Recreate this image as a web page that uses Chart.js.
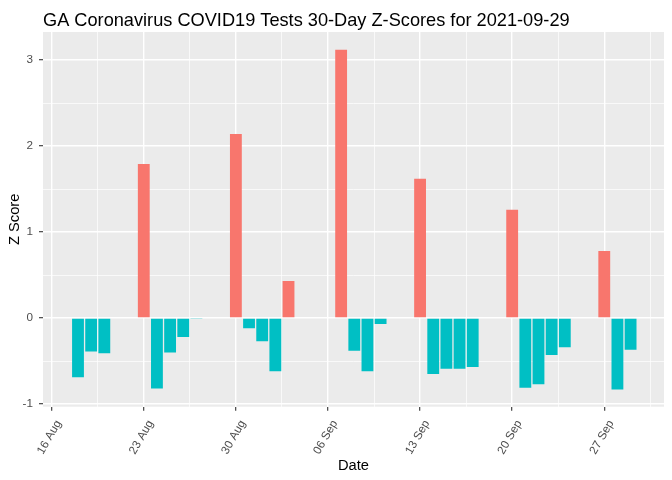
<!DOCTYPE html>
<html>
<head>
<meta charset="utf-8">
<title>GA COVID19 Tests Z-Scores</title>
<script src="https://cdn.jsdelivr.net/npm/chart.js@4.4.0/dist/chart.umd.min.js"></script>
<style>
  html, body { margin: 0; padding: 0; background: #ffffff; }
  #wrap { width: 672px; height: 480px; }
</style>
</head>
<body>
<div id="wrap"><canvas id="chart" width="672" height="480"></canvas></div>
<script>
// Chart data
const chartTitle = 'GA Coronavirus COVID19 Tests 30-Day Z-Scores for 2021-09-29';

const dates = [
  '2021-08-18', '2021-08-19', '2021-08-20',
  '2021-08-23', '2021-08-24', '2021-08-25', '2021-08-26', '2021-08-27',
  '2021-08-30', '2021-08-31', '2021-09-01', '2021-09-02', '2021-09-03',
  '2021-09-07', '2021-09-08', '2021-09-09', '2021-09-10',
  '2021-09-13', '2021-09-14', '2021-09-15', '2021-09-16', '2021-09-17',
  '2021-09-20', '2021-09-21', '2021-09-22', '2021-09-23', '2021-09-24',
  '2021-09-27', '2021-09-28', '2021-09-29'
];

const zScores = [
  -0.69, -0.39, -0.41,
  1.79, -0.82, -0.40, -0.22, -0.01,
  2.14, -0.12, -0.27, -0.62, 0.43,
  3.12, -0.38, -0.62, -0.07,
  1.62, -0.65, -0.59, -0.59, -0.57,
  1.26, -0.81, -0.77, -0.43, -0.34,
  0.78, -0.83, -0.37
];

const tickDates = ['2021-08-16', '2021-08-23', '2021-08-30', '2021-09-06', '2021-09-13', '2021-09-20', '2021-09-27'];
const tickLabels = ['16 Aug', '23 Aug', '30 Aug', '06 Sep', '13 Sep', '20 Sep', '27 Sep'];
const yTickValues = [-1, 0, 1, 2, 3];

const posColor = '#F8766D';
const negColor = '#00BFC4';

// days counted from the first tick date
const dayOf = s => (Date.parse(s) - Date.parse(tickDates[0])) / 86400000;
const tickDays = tickDates.map(dayOf);

const xMin = -0.66, xMax = 46.54;
const yMin = -1.031, yMax = 3.326;

// major grid at ticks, minor halfway between
const xGrid = [];
tickDays.forEach(d => {
  xGrid.push(d);
  if (d + 3.5 <= xMax) xGrid.push(d + 3.5);
});
const yGrid = [];
yTickValues.forEach(v => {
  yGrid.push(v);
  if (v + 0.5 <= yMax) yGrid.push(v + 0.5);
});

const isMajorX = c => !!c.tick && tickDays.includes(c.tick.value);
const isMajorY = c => !!c.tick && yTickValues.includes(c.tick.value);

const panelBg = {
  id: 'panelBg',
  beforeDraw(chart) {
    const { ctx, chartArea: a } = chart;
    ctx.save();
    ctx.fillStyle = '#EBEBEB';
    ctx.fillRect(a.left, a.top, a.right - a.left, a.bottom - a.top);
    ctx.restore();
  }
};

const plotTitle = {
  id: 'plotTitle',
  afterDraw(chart) {
    const { ctx, chartArea: a } = chart;
    ctx.save();
    ctx.fillStyle = '#000000';
    ctx.font = '18.2px "Liberation Sans", Arial, sans-serif';
    ctx.textAlign = 'left';
    ctx.textBaseline = 'alphabetic';
    ctx.fillText(chartTitle, a.left, 26);
    ctx.restore();
  }
};

const tickFont = { family: '"Liberation Sans", Arial, sans-serif', size: 11.7 };
const titleFont = { family: '"Liberation Sans", Arial, sans-serif', size: 14.7 };

new Chart(document.getElementById('chart'), {
  type: 'bar',
  data: {
    datasets: [{
      data: dates.map((d, i) => ({ x: dayOf(d), y: zScores[i] })),
      backgroundColor: zScores.map(v => v > 0 ? posColor : negColor),
      borderWidth: 0,
      categoryPercentage: 1,
      barPercentage: 0.9
    }]
  },
  options: {
    responsive: false,
    animation: false,
    devicePixelRatio: 1,
    layout: { padding: { top: 32, right: 8, bottom: 0, left: 0 } },
    plugins: {
      legend: { display: false },
      tooltip: { enabled: false },
      title: { display: false }
    },
    scales: {
      x: {
        type: 'linear',
        offset: false,
        min: xMin,
        max: xMax,
        afterBuildTicks: s => { s.ticks = xGrid.map(v => ({ value: v })); },
        afterFit: s => { s.height = 73.3; },
        border: { display: false },
        grid: {
          offset: false,
          color: '#FFFFFF',
          lineWidth: c => isMajorX(c) ? 1.4 : 0.7,
          drawTicks: true,
          tickLength: 4,
          tickWidth: 1.1,
          tickColor: c => isMajorX(c) ? '#333333' : 'rgba(0,0,0,0)'
        },
        ticks: {
          autoSkip: false,
          minRotation: 60,
          maxRotation: 60,
          padding: 7,
          labelOffset: 7,
          color: '#4D4D4D',
          font: tickFont,
          callback: v => {
            const i = tickDays.indexOf(v);
            return i >= 0 ? tickLabels[i] : '';
          }
        },
        title: {
          display: true,
          text: 'Date',
          color: '#000000',
          font: titleFont,
          padding: { top: 0, bottom: 5.6 }
        }
      },
      y: {
        min: yMin,
        max: yMax,
        afterBuildTicks: s => { s.ticks = yGrid.map(v => ({ value: v })); },
        afterFit: s => { s.width = 43; },
        border: { display: false },
        grid: {
          color: '#FFFFFF',
          lineWidth: c => isMajorY(c) ? 1.4 : 0.7,
          drawTicks: true,
          tickLength: 4,
          tickWidth: 1.1,
          tickColor: c => isMajorY(c) ? '#333333' : 'rgba(0,0,0,0)'
        },
        ticks: {
          padding: 6,
          color: '#4D4D4D',
          font: tickFont,
          callback: v => yTickValues.includes(v) ? String(v) : ''
        },
        title: {
          display: true,
          text: 'Z Score',
          color: '#000000',
          font: titleFont,
          padding: { top: 6.1, bottom: 0 }
        }
      }
    }
  },
  plugins: [panelBg, plotTitle]
});
</script>
</body>
</html>
